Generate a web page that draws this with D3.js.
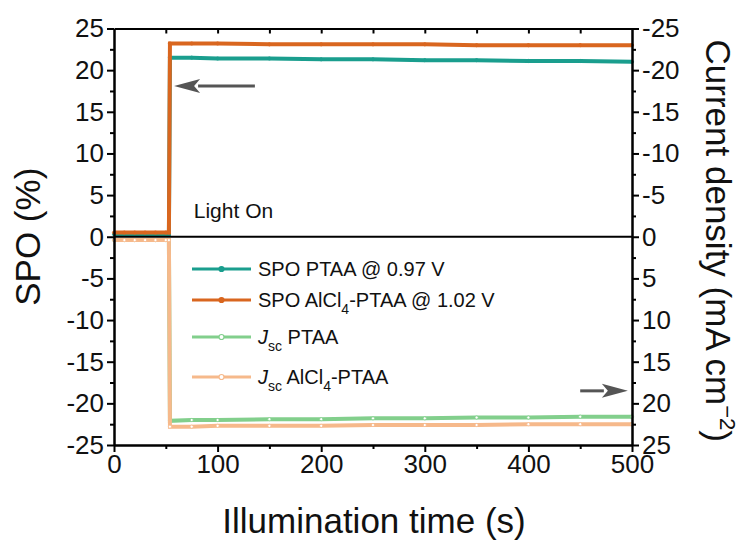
<!DOCTYPE html>
<html>
<head>
<meta charset="utf-8">
<script src="https://cdn.jsdelivr.net/npm/d3@7/dist/d3.min.js"></script>
<style>
  body { margin: 0; background: #fff; }
  text { font-family: Arial, "Liberation Sans", Helvetica, sans-serif; fill: #111; }
</style>
</head>
<body>
<div id="chart"></div>
<script>
// time axis (s)
var timeS    = [0, 10, 20, 30, 40, 50, 53, 54, 75, 100, 150, 200, 250, 300, 350, 400, 450, 500];
// SPO efficiency (%), left axis
var spoPTAA  = [0.3, 0.3, 0.3, 0.3, 0.3, 0.3, 0.3, 21.5, 21.5, 21.4, 21.4, 21.3, 21.3, 21.2, 21.2, 21.1, 21.1, 21.0];
var spoAlCl4 = [0.5, 0.5, 0.5, 0.5, 0.5, 0.5, 0.5, 23.2, 23.2, 23.2, 23.1, 23.1, 23.1, 23.1, 23.0, 23.0, 23.0, 23.0];
// Jsc current density (mA cm-2), right axis (reversed)
var jscPTAA  = [0.4, 0.4, 0.4, 0.4, 0.4, 0.4, 0.4, 22.1, 22.0, 22.0, 21.9, 21.9, 21.8, 21.8, 21.7, 21.7, 21.6, 21.6];
var jscAlCl4 = [0.4, 0.4, 0.4, 0.4, 0.4, 0.4, 0.4, 22.8, 22.8, 22.7, 22.7, 22.7, 22.6, 22.6, 22.6, 22.5, 22.5, 22.5];

var xTicks  = [0, 100, 200, 300, 400, 500];
var yTicks  = [-25, -20, -15, -10, -5, 0, 5, 10, 15, 20, 25];
var y2Ticks = [-25, -20, -15, -10, -5, 0, 5, 10, 15, 20, 25];

var margin = {top: 28.5, right: 111, bottom: 96, left: 114},
    width = 743 - margin.left - margin.right,
    height = 541 - margin.top - margin.bottom;

var x  = d3.scaleLinear().domain([0, 500]).range([0, width]);
var y  = d3.scaleLinear().domain([-25, 25]).range([height, 0]);
var y2 = d3.scaleLinear().domain([-25, 25]).range([0, height]);

var plain = function (d) { return String(d); };   // hyphen minus like the original

var svg = d3.select("#chart").append("svg")
    .attr("width", 743).attr("height", 541)
  .append("g")
    .attr("transform", "translate(" + margin.left + "," + margin.top + ")");

// series (drawing order: later ones on top)
var series = [
  {name: "spoPTAA",  vals: spoPTAA,  scale: y,  color: "#1a9e8e", fill: "#1a9e8e"},
  {name: "spoAlCl4", vals: spoAlCl4, scale: y,  color: "#d9661f", fill: "#d9661f"},
  {name: "jscPTAA",  vals: jscPTAA,  scale: y2, color: "#82cf8c", fill: "#fff"},
  {name: "jscAlCl4", vals: jscAlCl4, scale: y2, color: "#f6b98b", fill: "#fff"}
];

series.forEach(function (s) {
  var pts = timeS.map(function (t, i) { return [t, s.vals[i]]; });
  var line = d3.line()
      .x(function (d) { return x(d[0]); })
      .y(function (d) { return s.scale(d[1]); });
  svg.append("path")
     .datum(pts)
     .attr("fill", "none")
     .attr("stroke", s.color)
     .attr("stroke-width", 4)
     .attr("d", line);
  svg.selectAll(".m-" + s.name)
     .data(pts)
   .enter().append("circle")
     .attr("class", "m-" + s.name)
     .attr("cx", function (d) { return x(d[0]); })
     .attr("cy", function (d) { return s.scale(d[1]); })
     .attr("r", 1.6)
     .attr("fill", s.fill)
     .attr("stroke", s.color)
     .attr("stroke-width", 0.8);
});

// zero line
svg.append("line")
   .attr("x1", 0).attr("x2", width)
   .attr("y1", y(0)).attr("y2", y(0))
   .attr("stroke", "#000").attr("stroke-width", 2.2);

// axes
function styleAxis(g) {
  g.selectAll("path").attr("stroke", "#000").attr("stroke-width", 2);
  g.selectAll("line").attr("stroke", "#000").attr("stroke-width", 2);
  g.selectAll("text").style("font-size", "26px").attr("fill", "#111");
}

svg.append("g")
   .attr("transform", "translate(0," + height + ")")
   .call(d3.axisBottom(x).tickValues(d3.range(50, 500, 100)).tickSize(4).tickFormat("").tickSizeOuter(0))
   .call(styleAxis);
svg.append("g")
   .attr("transform", "translate(0," + height + ")")
   .call(d3.axisBottom(x).tickValues(xTicks).tickSize(7).tickPadding(3).tickFormat(plain).tickSizeOuter(0))
   .call(styleAxis);

svg.append("g")
   .call(d3.axisTop(x).tickValues(d3.range(50, 500, 50)).tickSize(-5).tickFormat("").tickSizeOuter(0))
   .call(styleAxis);

svg.append("g")
   .call(d3.axisLeft(y).tickValues(d3.range(-22.5, 25, 5)).tickSize(4).tickFormat("").tickSizeOuter(0))
   .call(styleAxis);
svg.append("g")
   .call(d3.axisLeft(y).tickValues(yTicks).tickSize(7).tickPadding(3).tickFormat(plain).tickSizeOuter(0))
   .call(styleAxis);

svg.append("g")
   .attr("transform", "translate(" + width + ",0)")
   .call(d3.axisRight(y2).tickValues(d3.range(-22.5, 25, 5)).tickSize(4).tickFormat("").tickSizeOuter(0))
   .call(styleAxis);
svg.append("g")
   .attr("transform", "translate(" + width + ",0)")
   .call(d3.axisRight(y2).tickValues(y2Ticks).tickSize(7).tickPadding(3).tickFormat(plain).tickSizeOuter(0))
   .call(styleAxis);

// arrows
function arrow(t0, t1, yy) {
  var xa = x(t0), xb = x(t1), dir = xb > xa ? 1 : -1, L = 26, H = 7;
  svg.append("line")
     .attr("x1", xa).attr("x2", xb - dir * L + dir * 2)
     .attr("y1", yy).attr("y2", yy)
     .attr("stroke", "#555").attr("stroke-width", 3);
  svg.append("path")
     .attr("d", "M" + xb + "," + yy + "L" + (xb - dir * L) + "," + (yy - H) +
                "L" + (xb - dir * L + dir * 6) + "," + yy +
                "L" + (xb - dir * L) + "," + (yy + H) + "Z")
     .attr("fill", "#555");
}
arrow(136, 58, y(18.1));
arrow(450, 496, y2(18.5));

// Light On
svg.append("text")
   .attr("x", x(77)).attr("y", y(2.2))
   .style("font-size", "21px")
   .text("Light On");

// legend
var legendItems = [
  {color: "#1a9e8e", fill: "#1a9e8e", parts: [["SPO PTAA @ 0.97 V", ""]]},
  {color: "#d9661f", fill: "#d9661f", parts: [["SPO AlCl", ""], ["4", "sub"], ["-PTAA @ 1.02 V", ""]]},
  {color: "#82cf8c", fill: "#fff", parts: [["J", "it"], ["sc", "sub"], [" PTAA", ""]]},
  {color: "#f6b98b", fill: "#fff", parts: [["J", "it"], ["sc", "sub"], [" AlCl", ""], ["4", "sub"], ["-PTAA", ""]]}
];
var legendY = [269, 300, 337, 377];

legendItems.forEach(function (it, i) {
  var ly = legendY[i] - margin.top, lx = 192 - margin.left;
  svg.append("line")
     .attr("x1", lx).attr("x2", lx + 59).attr("y1", ly).attr("y2", ly)
     .attr("stroke", it.color).attr("stroke-width", 3);
  svg.append("circle")
     .attr("cx", lx + 29.5).attr("cy", ly).attr("r", 2.5)
     .attr("fill", it.fill).attr("stroke", it.color).attr("stroke-width", 1.2);
  var t = svg.append("text")
     .attr("x", lx + 66).attr("y", ly + 7)
     .style("font-size", "20px");
  var shifted = false;
  it.parts.forEach(function (p) {
    var ts = t.append("tspan").text(p[0]);
    if (p[1] === "it") ts.style("font-style", "italic");
    if (p[1] === "sub") {
      ts.attr("dy", 7).style("font-size", "14px");
      shifted = true;
    } else if (shifted) {
      ts.attr("dy", -7);
      shifted = false;
    }
  });
});

// axis titles
svg.append("text")
   .attr("text-anchor", "middle")
   .attr("transform", "translate(" + (width / 2 + 1) + "," + (height + 88) + ")")
   .style("font-size", "35px")
   .text("Illumination time (s)");

svg.append("text")
   .attr("text-anchor", "middle")
   .attr("transform", "translate(" + (-74) + "," + (height / 2) + ") rotate(-90)")
   .style("font-size", "35px")
   .text("SPO (%)");

var rt = svg.append("text")
   .attr("text-anchor", "middle")
   .attr("transform", "translate(" + (width + 74) + "," + (height / 2 + 4) + ") rotate(90)")
   .style("font-size", "35px");
rt.append("tspan").text("Current density (mA cm");
rt.append("tspan").text("\u22122").attr("dy", -14).style("font-size", "22px");
rt.append("tspan").text(")").attr("dy", 14);
</script>
</body>
</html>
